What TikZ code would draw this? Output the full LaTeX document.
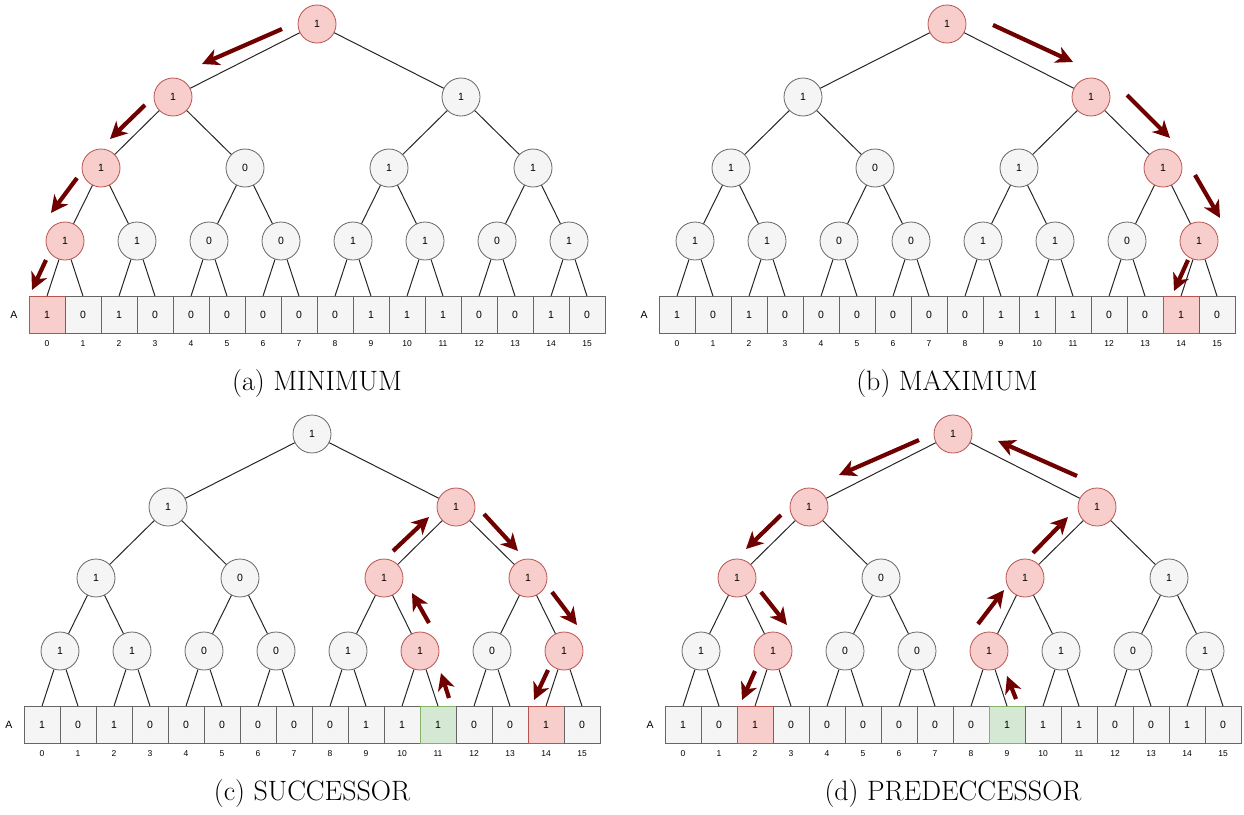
\documentclass[tikz,border=0pt]{standalone}
\usepackage{fontspec}
\newfontfamily\diafont{Liberation Sans}
\usetikzlibrary{arrows.meta,calc}

\definecolor{hitfill}{HTML}{F8CECC}
\definecolor{hitline}{HTML}{B85450}
\definecolor{bitfill}{HTML}{F5F5F5}
\definecolor{bitline}{HTML}{666666}
\definecolor{foundfill}{HTML}{D5E8D4}
\definecolor{foundline}{HTML}{82B366}
\definecolor{walkred}{HTML}{6F0000}

\tikzset{
	bit/.style={draw=bitline,fill=bitfill,circle,minimum size=38pt,inner sep=0pt,line width=0.8pt,font=\diafont\fontsize{10.5}{12}\selectfont},
	cell/.style={draw=bitline,fill=bitfill,rectangle,minimum width=36pt,minimum height=37pt,inner sep=0pt,line width=0.8pt,font=\diafont\fontsize{10.5}{12}\selectfont},
	hit/.style={draw=hitline,fill=hitfill},
	found/.style={draw=foundline,fill=foundfill},
	idx/.style={font=\diafont\fontsize{8.5}{10}\selectfont},
	link/.style={draw=black!85,line width=1pt},
	walk/.style={draw=walkred,line width=4.2pt,-{Stealth[length=17pt,width=17pt,inset=5pt]}},
	caption/.style={font=\fontsize{28}{34}\selectfont}
}

% one panel: tree over the bit array A, #1 = name prefix, #2 = caption
\newcommand\vebpanel[2]{%
	\node[bit,hl0-0/.try] (#10-0) at (317,24) {1};
	\foreach \v [count=\i from 0] in {1,1}{
		\pgfmathsetmacro\xx{173+288*\i}
		\node[bit,hl1-\i/.try] (#11-\i) at (\xx,97) {\v};
	}
	\foreach \v [count=\i from 0] in {1,0,1,1}{
		\pgfmathsetmacro\xx{101+144*\i}
		\node[bit,hl2-\i/.try] (#12-\i) at (\xx,168) {\v};
	}
	\foreach \v [count=\i from 0] in {1,1,0,0,1,1,0,1}{
		\pgfmathsetmacro\xx{65+72*\i}
		\node[bit,hl3-\i/.try] (#13-\i) at (\xx,241) {\v};
	}
	\node[font=\diafont\fontsize{10.5}{12}\selectfont] (#1lab) at (14,315) {A};
	\foreach \v [count=\i from 0] in {1,0,1,0,0,0,0,0,0,1,1,1,0,0,1,0}{
		\pgfmathsetmacro\xx{47+36*\i}
		\node[cell,hlA\i/.try] (#1A\i) at (\xx,315) {\v};
		\node[idx] (#1i\i) at (\xx,344) {\i};
	}
	\foreach \lev/\up in {1/0,2/1,3/2}{
		\pgfmathtruncatemacro\cnt{2^\lev-1}
		\foreach \i in {0,...,\cnt}{
			\pgfmathtruncatemacro\pidx{\i/2}
			\draw[link] (#1\up-\pidx) -- (#1\lev-\i);
		}
	}
	\foreach \i in {0,...,7}{
		\pgfmathtruncatemacro\lft{2*\i}
		\pgfmathtruncatemacro\rgt{2*\i+1}
		\draw[link] (#13-\i) -- (#1A\lft.north);
		\draw[link] (#13-\i) -- (#1A\rgt.north);
	}
	\node[caption] (#1cap) at (317,384) {#2};
}

\begin{document}
\begin{tikzpicture}[x=1pt,y=-1pt]
	\useasboundingbox (0,0) rectangle (1244,814);

	% (a) minimum
	\begin{scope}[hl0-0/.style=hit,hl1-0/.style=hit,hl2-0/.style=hit,hl3-0/.style=hit,hlA0/.style=hit]
		\vebpanel{a}{(a) MINIMUM}
		\draw[walk] ($(a0-0)+(-35,5)$) -- ($(a0-0)+(-115,40)$);
		\draw[walk] ($(a1-0)+(-28,8)$) -- ($(a1-0)+(-63,42)$);
		\draw[walk] ($(a2-0)+(-24,10)$) -- ($(a2-0)+(-50,45)$);
		\draw[walk] ($(a3-0)+(-19,19)$) -- ($(a3-0)+(-33,49)$);
	\end{scope}

	% (b) maximum
	\begin{scope}[shift={(630,0)},hl0-0/.style=hit,hl1-1/.style=hit,hl2-3/.style=hit,hl3-7/.style=hit,hlA14/.style=hit]
		\vebpanel{b}{(b) MAXIMUM}
		\draw[walk] ($(b0-0)+(46,1)$) -- ($(b0-0)+(126,38)$);
		\draw[walk] ($(b1-1)+(36,-2)$) -- ($(b1-1)+(79,41)$);
		\draw[walk] ($(b2-3)+(32,7)$) -- ($(b2-3)+(57,50)$);
		\draw[walk] ($(b3-7)+(-11,19)$) -- ($(b3-7)+(-25,50)$);
	\end{scope}

	% (c) successor
	\begin{scope}[shift={(-5,410)},hl1-1/.style=hit,hl2-2/.style=hit,hl2-3/.style=hit,hl3-5/.style=hit,hl3-7/.style=hit,hlA11/.style=found,hlA14/.style=hit]
		\vebpanel{c}{(c) SUCCESSOR}
		\draw[walk] ($(c3-5)+(29,47)$) -- ($(c3-5)+(21,22)$);
		\draw[walk] ($(c3-5)+(9,-28)$) -- ($(c3-5)+(-8,-58)$);
		\draw[walk] ($(c2-2)+(9,-27)$) -- ($(c2-2)+(45,-61)$);
		\draw[walk] ($(c1-1)+(28,7)$) -- ($(c1-1)+(62,44)$);
		\draw[walk] ($(c2-3)+(24,14)$) -- ($(c2-3)+(49,47)$);
		\draw[walk] ($(c3-7)+(-16,19)$) -- ($(c3-7)+(-30,49)$);
	\end{scope}

	% (d) predecessor
	\begin{scope}[shift={(636,410)},hl0-0/.style=hit,hl1-0/.style=hit,hl1-1/.style=hit,hl2-0/.style=hit,hl2-2/.style=hit,hl3-1/.style=hit,hl3-4/.style=hit,hlA2/.style=hit,hlA9/.style=found]
		\vebpanel{d}{(d) PREDECCESSOR}
		\draw[walk] ($(d3-4)+(27,48)$) -- ($(d3-4)+(18,25)$);
		\draw[walk] ($(d3-4)+(-11,-27)$) -- ($(d3-4)+(15,-61)$);
		\draw[walk] ($(d2-2)+(8,-25)$) -- ($(d2-2)+(43,-61)$);
		\draw[walk] ($(d1-1)+(-20,-31)$) -- ($(d1-1)+(-99,-66)$);
		\draw[walk] ($(d0-0)+(-34,6)$) -- ($(d0-0)+(-114,41)$);
		\draw[walk] ($(d1-0)+(-28,8)$) -- ($(d1-0)+(-63,42)$);
		\draw[walk] ($(d2-0)+(24,14)$) -- ($(d2-0)+(50,47)$);
		\draw[walk] ($(d3-1)+(-18,20)$) -- ($(d3-1)+(-31,49)$);
	\end{scope}
\end{tikzpicture}
\end{document}
